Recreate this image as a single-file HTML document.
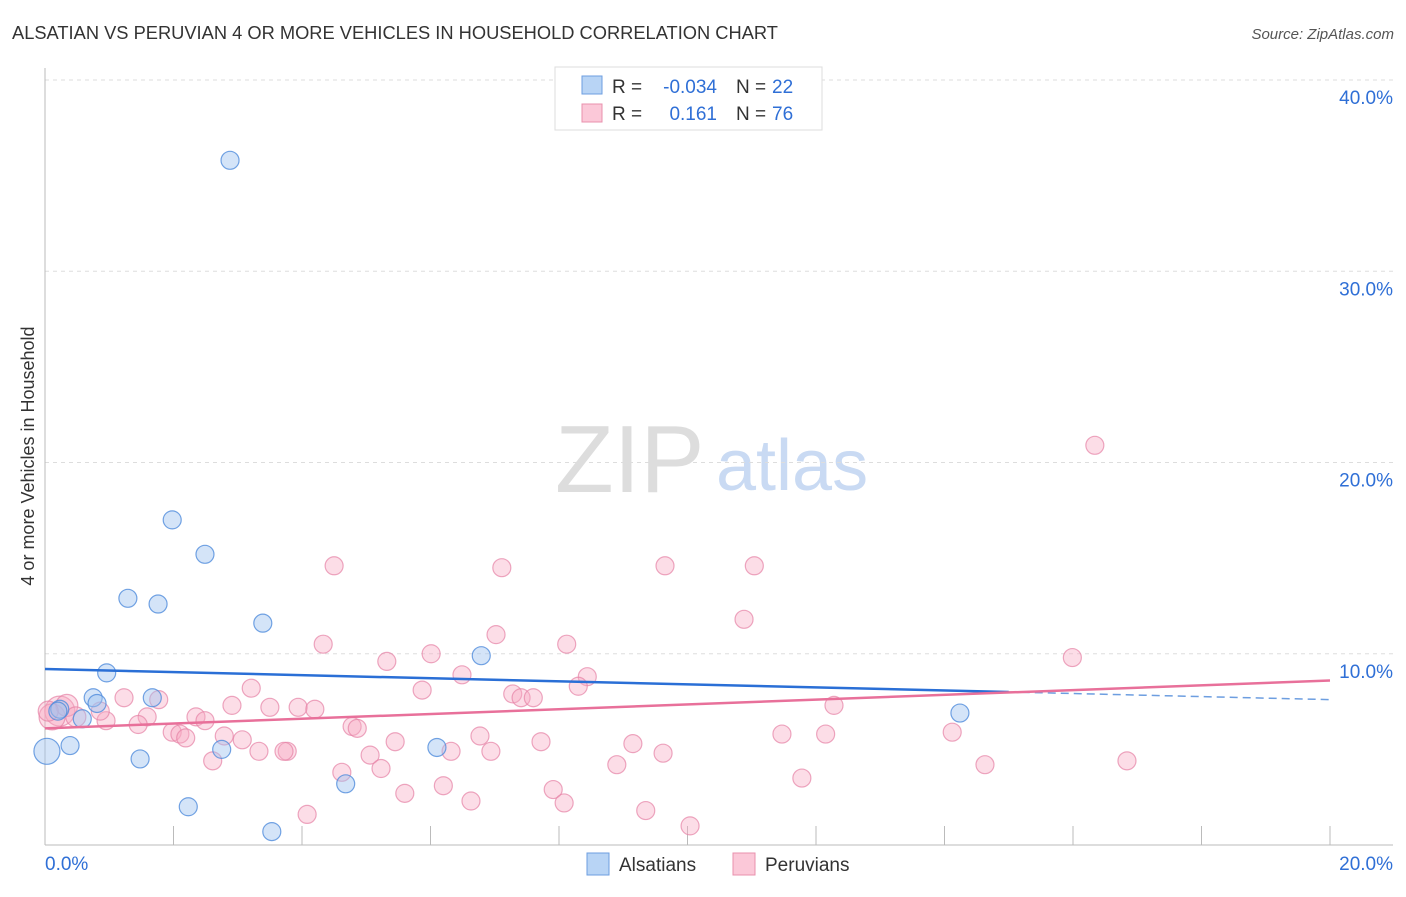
<!DOCTYPE html>
<html><head><meta charset="utf-8"><style>
body{margin:0;background:#fff;font-family:"Liberation Sans",sans-serif}
svg text{font-family:"Liberation Sans",sans-serif}
</style></head><body>
<svg width="1406" height="892" xmlns="http://www.w3.org/2000/svg">
<text x="12" y="39" font-size="18.3" fill="#333">ALSATIAN VS PERUVIAN 4 OR MORE VEHICLES IN HOUSEHOLD CORRELATION CHART</text>
<text x="1394" y="39" font-size="15" fill="#555" text-anchor="end" font-style="italic">Source: ZipAtlas.com</text>
<g>
<text x="555" y="492" font-size="96" fill="#ddd" font-family="Liberation Serif,serif">ZIP</text>
<text x="716" y="490" font-size="72" fill="#c9daf3">atlas</text>
</g>
<g id="grid"></g>
<g id="axes"></g>
<text transform="translate(34,456) rotate(-90)" font-size="18" fill="#333" text-anchor="middle">4 or more Vehicles in Household</text>
<g id="marks"></g>
<g id="lines"></g>
<g>
<rect x="555" y="67" width="267" height="63" fill="#fff" stroke="#ddd"/>
<rect x="582" y="76" width="20" height="18" fill="#b8d4f5" stroke="#6d9ee0"/>
<rect x="582" y="104" width="20" height="18" fill="#fbc8d8" stroke="#e890ad"/>
<text y="93" font-size="19" fill="#333"><tspan x="612">R =</tspan><tspan x="717" text-anchor="end" fill="#2f6fd6">-0.034</tspan><tspan x="736">N =</tspan><tspan x="772" fill="#2f6fd6">22</tspan></text>
<text y="120" font-size="19" fill="#333"><tspan x="612">R =</tspan><tspan x="717" text-anchor="end" fill="#2f6fd6">0.161</tspan><tspan x="736">N =</tspan><tspan x="772" fill="#2f6fd6">76</tspan></text>
</g>
<g>
<rect x="587" y="853" width="22" height="22" fill="#b8d4f5" stroke="#6d9ee0"/>
<text x="619" y="871" font-size="19" fill="#333">Alsatians</text>
<rect x="733" y="853" width="22" height="22" fill="#fbc8d8" stroke="#e890ad"/>
<text x="765" y="871" font-size="19" fill="#333">Peruvians</text>
</g>
</svg>
<script>
const yTicks=[10,20,30,40];
const yTickLabels=["10.0%","20.0%","30.0%","40.0%"];
const xTicks=[0,1,2,3,4,5,6,7,8,9,10,11,12,13,14,15,16,17,18,19,20];
const alsX=[2.88,1.98,2.49,1.29,1.76,3.39,0.96,6.79,0.75,0.81,1.67,0.23,0.58,0.2,0.39,1.48,2.75,6.1,4.68,2.23,3.53,14.24,0.03];
const alsY=[35.8,17,15.2,12.9,12.6,11.6,9,9.9,7.7,7.4,7.7,7.1,6.6,7,5.2,4.5,5,5.1,3.2,2,0.7,6.9,4.9];
const alsR=[9,9,9,9,9,9,9,9,9,9,9,9,9,9,9,9,9,9,9,9,9,9,13];
const perX=[16.34,4.5,7.11,9.65,11.04,10.88,7.02,4.33,8.12,6.01,5.32,15.99,6.49,8.44,8.3,5.87,7.28,7.41,7.6,3.21,1.23,1.77,2.91,3.94,3.5,4.2,12.28,1.59,2.35,2.49,0.95,1.45,4.78,4.86,1.98,2.1,2.19,2.79,3.07,5.45,6.77,7.72,9.15,11.47,12.15,14.12,3.33,3.77,3.72,5.06,6.32,6.94,9.62,2.61,4.62,5.23,8.9,11.78,14.63,16.84,5.6,6.2,7.91,6.63,8.08,9.35,10.04,4.08,0.23,0.11,0.34,0.48,0.86,0.05];
const perY=[20.9,14.6,14.5,14.6,14.6,11.8,11,10.5,10.5,10,9.6,9.8,8.9,8.8,8.3,8.1,7.9,7.7,7.7,8.2,7.7,7.6,7.3,7.2,7.2,7.1,7.3,6.7,6.7,6.5,6.5,6.3,6.2,6.1,5.9,5.8,5.6,5.7,5.5,5.4,5.7,5.4,5.3,5.8,5.8,5.9,4.9,4.9,4.9,4.7,4.9,4.9,4.8,4.4,3.8,4,4.2,3.5,4.2,4.4,2.7,3.1,2.9,2.3,2.2,1.8,1.0,1.6,7.0,6.7,7.3,6.7,7.0,7.0];
const perR=[9,9,9,9,9,9,9,9,9,9,9,9,9,9,9,9,9,9,9,9,9,9,9,9,9,9,9,9,9,9,9,9,9,9,9,9,9,9,9,9,9,9,9,9,9,9,9,9,9,9,9,9,9,9,9,9,9,9,9,9,9,9,9,9,9,9,9,9,15,13,11,10,9,10];
const alsTrend=[9.2,7.6];
const perTrend=[6.1,8.6];
const X=v=>45+v*64.25, Y=v=>845-v*19.125;
const NS="http://www.w3.org/2000/svg";
function mk(t,a,p){const e=document.createElementNS(NS,t);for(const k in a)e.setAttribute(k,a[k]);p.appendChild(e);return e;}
const grid=document.getElementById('grid'),axes=document.getElementById('axes'),marks=document.getElementById('marks'),lines=document.getElementById('lines');
yTicks.forEach((t,i)=>{
 const g=mk('line',{x1:45,x2:1393,y1:Y(t),y2:Y(t),stroke:'#ddd','stroke-dasharray':'4,4'},grid);
 
 
 const tx=mk('text',{x:1393,y:Y(t)+24,'font-size':19,fill:'#2f6fd6','text-anchor':'end'},axes);
 tx.textContent=yTickLabels[i];
 
 
});
const ax=mk('line',{x1:45,x2:1393,y1:845,y2:845,stroke:'#bbb'},axes);


const ay=mk('line',{x1:45,x2:45,y1:68,y2:845,stroke:'#bbb'},axes);


xTicks.forEach((t,i)=>{if(i%2===0&&i>0){const l=mk('line',{x1:X(t),x2:X(t),y1:826,y2:845,stroke:'#bbb'},axes);
 
 }});
[[0,"0.0%","start",45],[20,"20.0%","end",1393]].forEach(d=>{const t=mk('text',{x:d[3],y:870,'font-size':19,fill:'#2f6fd6','text-anchor':d[2]},axes);t.textContent=d[1];
 
 });
perX.forEach((v,i)=>{const c=mk('circle',{cx:X(v),cy:Y(perY[i]),r:perR[i],fill:'rgba(248,170,195,0.4)',stroke:'rgba(230,130,165,0.7)','stroke-width':1.2},marks);
 
 });
alsX.forEach((v,i)=>{const c=mk('circle',{cx:X(v),cy:Y(alsY[i]),r:alsR[i],fill:'rgba(160,195,240,0.45)',stroke:'rgba(80,140,220,0.8)','stroke-width':1.2},marks);
 
 });
const split=15.0, aAt=x=>alsTrend[0]+(alsTrend[1]-alsTrend[0])*x/20;
const l1=mk('line',{x1:X(0),y1:Y(aAt(0)),x2:X(split),y2:Y(aAt(split)),stroke:'#2a6fd6','stroke-width':2.5},lines);


const l2=mk('line',{x1:X(split),y1:Y(aAt(split)),x2:X(20),y2:Y(aAt(20)),stroke:'#6d9ee0','stroke-width':1.5,'stroke-dasharray':'8,5'},lines);


const l3=mk('line',{x1:X(0),y1:Y(perTrend[0]),x2:X(20),y2:Y(perTrend[1]),stroke:'#e8709a','stroke-width':2.5},lines);


</script>
</body></html>
